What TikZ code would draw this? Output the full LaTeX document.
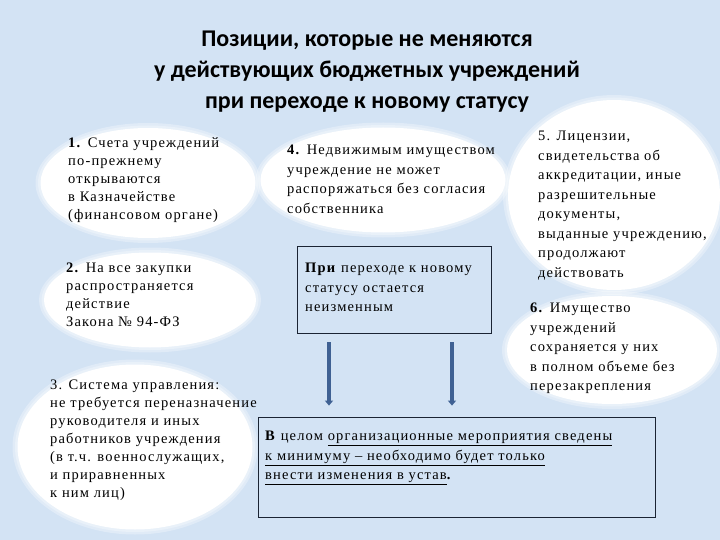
\documentclass[tikz,border=0pt]{standalone}
\usepackage{fontspec}
\setmainfont{Liberation Serif}[LetterSpace=8]
\newfontfamily\titlefont{Carlito}
\usetikzlibrary{shapes.geometric,arrows.meta}
\definecolor{bgblue}{HTML}{D3E3F4}
\definecolor{arrblue}{HTML}{3F6193}
\definecolor{boxline}{HTML}{1A2433}
\tikzset{
  blob/.style={ellipse, fill=white, inner sep=0pt},
  halo/.style={ellipse, fill=white, opacity=0.3, inner sep=0pt},
  txt/.style={anchor=north west, inner sep=0pt, align=left, font=\fontsize{14.5}{18}\selectfont},
  wide/.style={txt, font=\fontsize{14.5}{19.5}\selectfont},
  frame/.style={draw=boxline, line width=0.8pt, inner sep=0pt},
  arr/.style={arrblue, line width=4.5pt, -{Triangle[width=8pt,length=5pt]}}
}
\begin{document}
\begin{tikzpicture}[x=1pt,y=-1pt]
\fill[bgblue] (0,0) rectangle (720,540);
\useasboundingbox (0,0) rectangle (720,540);
% title
\node[align=center, font=\titlefont\bfseries\fontsize{24}{31}\selectfont] (title) at (367,72)
  {Позиции, которые не меняются\\у действующих бюджетных учреждений\\при переходе к новому статусу};
% ellipses, with a soft rim
\foreach \cx/\cy/\w/\h in {148/183/215/110, 150/300/212/95, 135/447/235/165,
                           383/180/245/105, 614/195/212/190, 612/350/210/108}{
  \node[halo, minimum width=\w pt+10pt, minimum height=\h pt+10pt] at (\cx,\cy) {};
  \node[halo, minimum width=\w pt+5pt, minimum height=\h pt+5pt] at (\cx,\cy) {};
  \node[blob, minimum width=\w pt, minimum height=\h pt] at (\cx,\cy) {};
}
% texts
\node[txt] (t1) at (68,137) {\textbf{1.} Счета учреждений\\по-прежнему\\открываются\\в Казначействе\\(финансовом органе)};
\node[txt] (t2) at (66,263) {\textbf{2.} На все закупки\\распространяется\\действие\\Закона № 94-ФЗ};
\node[txt] (t3) at (50,380) {3. Система управления:\\не требуется переназначение\\руководителя и иных\\работников учреждения\\(в т.ч. военнослужащих,\\и приравненных\\к ним лиц)};
\node[wide] (t4) at (287,145) {\textbf{4.} Недвижимым имуществом\\учреждение не может\\распоряжаться без согласия\\собственника};
\node[wide] (t5) at (538,131) {5. Лицензии,\\свидетельства об\\аккредитации, иные\\разрешительные\\документы,\\выданные учреждению,\\продолжают\\действовать};
\node[wide] (t6) at (530,303) {\textbf{6.} Имущество\\учреждений\\сохраняется у них\\в полном объеме без\\перезакрепления};
% boxes
\node[frame, minimum width=194pt, minimum height=87pt] (keep) at (394,289.5) {};
\node[wide] (tk) at (305,263) {\textbf{При} переходе к новому\\статусу остается\\неизменным};
\node[frame, minimum width=397pt, minimum height=100pt] (sum) at (456.5,467) {};
\node[wide] (ts) at (265,431) {\textbf{В} целом \underline{организационные мероприятия сведены}\\\underline{к минимуму – необходимо будет только}\\\underline{внести изменения в устав}\textbf{.}};
% arrows
\draw[arr, shorten <=9pt, shorten >=11pt] ([xshift=-65pt]keep.south) -- ([xshift=-65pt]keep.south |- sum.north);
\draw[arr, shorten <=9pt, shorten >=11pt] ([xshift=58pt]keep.south) -- ([xshift=58pt]keep.south |- sum.north);
\end{tikzpicture}
\end{document}
